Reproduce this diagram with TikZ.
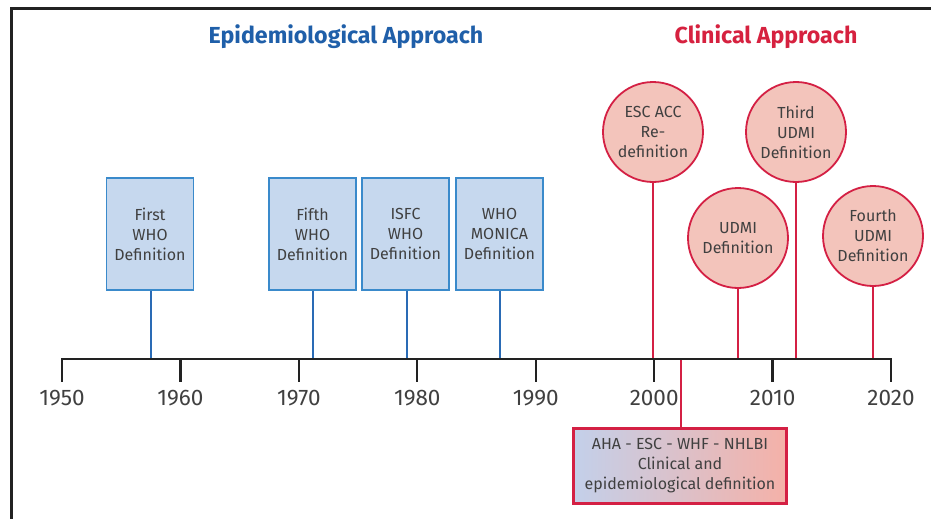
\documentclass[tikz,border=0pt]{standalone}
\usepackage{fontspec}
\setmainfont{Fira Sans}
\usetikzlibrary{shadings}
\definecolor{blueT}{HTML}{1F5FA9}
\definecolor{blueFill}{HTML}{C6D8EE}
\definecolor{blueLine}{HTML}{3A8ACB}
\definecolor{blueConn}{HTML}{2A6BB5}
\definecolor{redT}{HTML}{D6213F}
\definecolor{redFill}{HTML}{F3C4BB}
\definecolor{redLine}{HTML}{D42044}
\definecolor{txt}{HTML}{404040}
\definecolor{axisc}{HTML}{222222}
\definecolor{gradL}{HTML}{C3D0EA}
\definecolor{gradR}{HTML}{F5B1A8}
\begin{document}
\begin{tikzpicture}[x=1pt,y=-1pt,
  lbl/.style={font=\fontsize{16}{20}\selectfont, text=txt, align=center},
  bluebox/.style={lbl, draw=blueLine, fill=blueFill, line width=1.8pt, minimum width=87pt, minimum height=112pt, inner sep=0pt},
  redcirc/.style={lbl, circle, draw=redLine, fill=redFill, line width=1.8pt, minimum size=100pt, inner sep=0pt},
  bconn/.style={draw=blueConn, line width=1.8pt},
  rconn/.style={draw=redLine, line width=1.8pt},
  yr/.style={font=\fontsize{22.5}{22}\selectfont, text=txt},
  ttl/.style={font=\fontsize{23.2}{23}\selectfont\bfseries}]
\useasboundingbox (0,0) rectangle (931,519);
\fill[white] (0,0) rectangle (931,519);
% frame
\draw[axisc, line width=2.6pt] (11.5,519) -- (11.5,8.5) -- (931,8.5);
% titles
\node[ttl, text=blueT] (te) at (346,37) {Epidemiological Approach};
\node[ttl, text=redT] (tc) at (766,37) {Clinical Approach};
% axis
\draw[axisc, line width=2.2pt] (62,359) -- (891,359);
\foreach \y [count=\i from 0] in {1950,1960,1970,1980,1990,2000,2010,2020}{
  \draw[axisc, line width=2.2pt] (62+\i*118.43,358) -- (62+\i*118.43,382);
  \node[yr] (y\y) at (62+\i*118.43,398) {\y};
}
% axis anchors
\coordinate (a1) at (151,358);
\coordinate (a2) at (313,358);
\coordinate (a3) at (407,358);
\coordinate (a4) at (500,358);
\coordinate (a5) at (653,358);
\coordinate (a6) at (681,360);
\coordinate (a7) at (738,358);
\coordinate (a8) at (796,358);
\coordinate (a9) at (873,358);
% blue boxes
\node[bluebox] (b1) at (150,234) {First\\WHO\\Definition};
\node[bluebox] (b2) at (312.5,234) {Fifth\\WHO\\Definition};
\node[bluebox] (b3) at (405.5,234) {ISFC\\WHO\\Definition};
\node[bluebox] (b4) at (499.5,234) {WHO\\MONICA\\Definition};
\draw[bconn] (b1.south -| a1) -- (a1);
\draw[bconn] (b2.south -| a2) -- (a2);
\draw[bconn] (b3.south -| a3) -- (a3);
\draw[bconn] (b4.south -| a4) -- (a4);
% red circles
\node[redcirc] (c1) at (653,132) {ESC ACC\\Re-\\definition};
\node[redcirc] (c2) at (796,132) {Third\\UDMI\\Definition};
\node[redcirc] (c3) at (738,238) {UDMI\\Definition};
\node[redcirc] (c4) at (873,236) {Fourth\\UDMI\\Definition};
\draw[rconn] (c1.south) -- (a5);
\draw[rconn] (c2.south) -- (a8);
\draw[rconn] (c3.south) -- (a7);
\draw[rconn] (c4.south) -- (a9);
% AHA box
\node[lbl, draw=redLine, line width=2.2pt, left color=gradL, right color=gradR, minimum width=213pt, minimum height=75pt, inner sep=0pt] (aha) at (680,466) {AHA - ESC - WHF - NHLBI\\Clinical and\\epidemiological definition};
\draw[rconn] (a6) -- (aha.north -| a6);
\end{tikzpicture}
\end{document}
